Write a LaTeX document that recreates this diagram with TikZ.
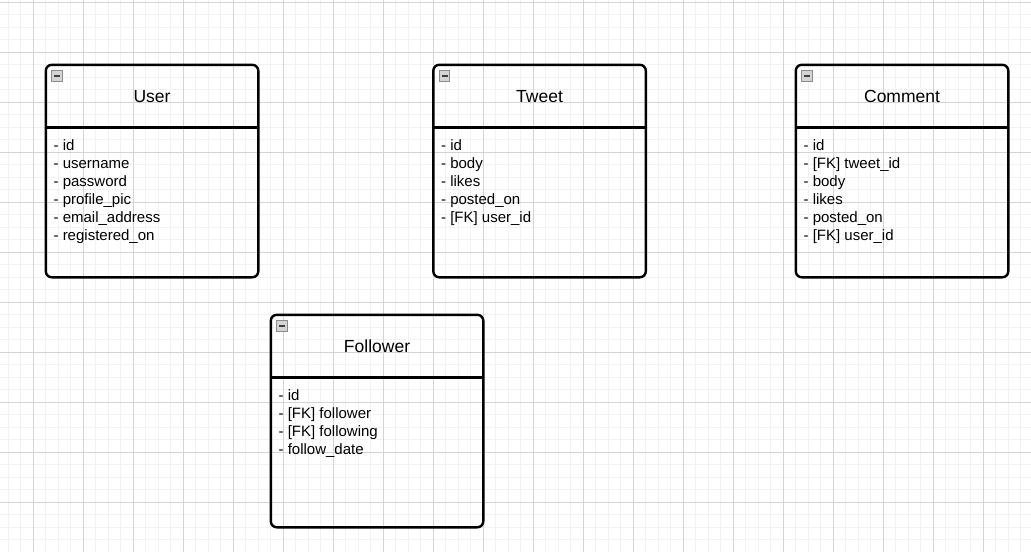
\documentclass[tikz,border=0pt]{standalone}
\usepackage{fontspec}
\setmainfont{Liberation Sans}
\begin{document}
\begin{tikzpicture}[x=1pt,y=-1pt,
  minorgrid/.style={draw=black!5,line width=1pt},
  majorgrid/.style={draw=black!17,line width=1pt},
  classbox/.style={draw=black,line width=2.4pt,rounded corners=6pt,minimum width=212.5pt,minimum height=212.5pt,inner sep=0pt,outer sep=0pt},
  classline/.style={draw=black,line width=2.4pt},
  titletext/.style={font=\fontsize{17.5}{21}\selectfont,text=black,inner sep=0pt,anchor=base},
  attrtext/.style={font=\fontsize{15}{18}\selectfont,text=black,inner sep=0pt,anchor=base west},
  iconbox/.style={draw=black!45,fill=black!17,line width=0.9pt,minimum size=10.5pt,inner sep=0pt,outer sep=0pt},
  iconminus/.style={draw=black!75,line width=1.4pt}]
\useasboundingbox (0,0) rectangle (1031,552);
\fill[white] (0,0) rectangle (1031,552);
% grid
\foreach \i in {0,...,81} \draw[minorgrid] ({8.33+12.5*\i},0) -- ({8.33+12.5*\i},552);
\foreach \j in {0,...,43} \draw[minorgrid] (0,{2.33+12.5*\j}) -- (1031,{2.33+12.5*\j});
\foreach \k in {0,...,19} \draw[majorgrid] ({33.33+50*\k},0) -- ({33.33+50*\k},552);
\foreach \k in {0,...,10} \draw[majorgrid] (0,{2.33+50*\k}) -- (1031,{2.33+50*\k});
% class macro
\newcommand\umlclass[5]{%
  \node[classbox,anchor=north west] (#1) at (#2,#3) {};
  \draw[classline] ([yshift=-62.5pt]#1.north west) -- ([yshift=-62.5pt]#1.north east);
  \node[iconbox,anchor=north west] (#1-icon) at ([xshift=6pt,yshift=-5.8pt]#1.north west) {};
  \draw[iconminus] ([xshift=-3pt]#1-icon.center) -- ([xshift=3pt]#1-icon.center);
  \node[titletext] (#1-title) at ([yshift=-37.6pt]#1.north) {#4};
  \foreach \a [count=\n from 0] in {#5}
    \node[attrtext] (#1-a\n) at ([xshift=7.6pt,yshift={-85.4pt-18pt*\n}]#1.north west) {\a};
}
\umlclass{user}{45.8}{64.8}{User}{- id,- username,- password,- profile\_pic,- email\_address,- registered\_on}
\umlclass{tweet}{433.3}{64.8}{Tweet}{- id,- body,- likes,- posted\_on,- [FK] user\_id}
\umlclass{comment}{795.8}{64.8}{Comment}{- id,- [FK] tweet\_id,- body,- likes,- posted\_on,- [FK] user\_id}
\umlclass{follower}{270.8}{314.8}{Follower}{- id,- [FK] follower,- [FK] following,- follow\_date}
\end{tikzpicture}
\end{document}
